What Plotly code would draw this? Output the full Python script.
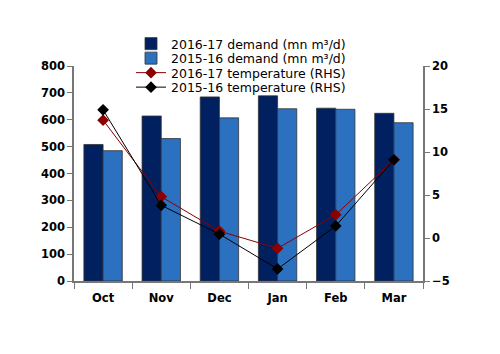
import plotly.graph_objects as go

months = ["Oct", "Nov", "Dec", "Jan", "Feb", "Mar"]
demand_1617 = [508, 614, 685, 689, 643, 624]
demand_1516 = [485, 530, 607, 641, 639, 589]
temp_1617 = [13.7, 4.8, 0.8, -1.2, 2.7, 9.1]
temp_1516 = [14.9, 3.8, 0.45, -3.6, 1.4, 9.1]

FONT = "DejaVu Sans"

fig = go.Figure()
fig.add_trace(go.Bar(x=months, y=demand_1617, name="2016-17 demand (mn m³/d)", legend="legend",
                     marker=dict(color="#002060", line=dict(color="#333333", width=0.8))))
fig.add_trace(go.Bar(x=months, y=demand_1516, name="2015-16 demand (mn m³/d)", legend="legend2",
                     marker=dict(color="#2C70C0", line=dict(color="#333333", width=0.8))))
fig.add_trace(go.Scatter(x=months, y=temp_1617, name="2016-17 temperature (RHS)", yaxis="y2",
                         legend="legend3",
                         mode="lines+markers", line=dict(color="#8B0000", width=1),
                         marker=dict(symbol="diamond", size=9, color="#8B0000")))
fig.add_trace(go.Scatter(x=months, y=temp_1516, name="2015-16 temperature (RHS)", yaxis="y2",
                         legend="legend4",
                         mode="lines+markers", line=dict(color="#000000", width=1),
                         marker=dict(symbol="diamond", size=9, color="#000000")))

axis_common = dict(showgrid=False, zeroline=False, showline=True, linecolor="#777777",
                   linewidth=1.5, ticks="outside", tickcolor="#777777",
                   tickfont=dict(family=FONT, size=11.5, color="#000000", weight="bold"))

T, B, L, R = 66, 73, 74, 77
PH = 354 - T - B
PW = 500 - L - R


def leg(py):
    return dict(x=(131 - L) / PW, y=(354 - B - py) / PH,
                xanchor="left", yanchor="middle", bgcolor="rgba(0,0,0,0)",
                font=dict(family=FONT, size=12.5), itemwidth=30, borderwidth=0)


fig.update_layout(
    width=500, height=354,
    margin=dict(l=L, r=R, t=T, b=B),
    paper_bgcolor="white", plot_bgcolor="white",
    barmode="group", bargap=0.34, bargroupgap=0,
    font=dict(family=FONT, size=12, color="#000000"),
    xaxis=dict(**axis_common, tickson="boundaries", ticklen=6, ticklabelstandoff=5),
    yaxis=dict(**axis_common, range=[0, 800], dtick=100, ticklen=5),
    yaxis2=dict(**axis_common, range=[-5, 20], dtick=5, overlaying="y", side="right", ticklen=5),
    legend=leg(44),
    legend2=leg(58.5),
    legend3=leg(73),
    legend4=leg(87.5),
    showlegend=True,
)

fig.write_html("out.html")
